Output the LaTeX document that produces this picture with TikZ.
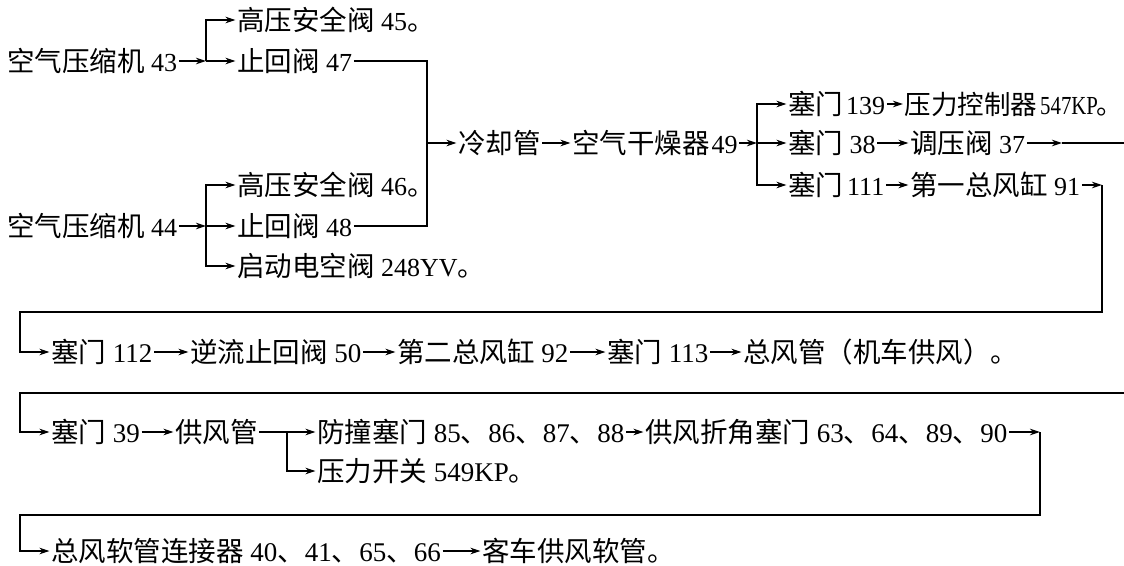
\documentclass[tikz,border=0pt]{standalone}
\usepackage{fontspec}
\setmainfont{Liberation Serif}
\newfontfamily\cjk{Noto Sans CJK SC}
\newfontfamily\latc[FakeStretch=0.8]{Liberation Serif}
\usetikzlibrary{arrows.meta}
\newcommand\zh[1]{{\cjk\fontsize{27.5}{30}\selectfont #1}}
\newcommand\zhs[1]{{\cjk\fontsize{26.5}{30}\selectfont #1}}
\newcommand\zhend[1]{\makebox[0.45em][l]{\zh{#1}}}
\tikzset{
  lbl/.style={anchor=west, inner xsep=1.5pt, inner ysep=0pt, text height=24pt, text depth=3.2pt},
  up/.style={lbl, font=\fontsize{26}{30}\selectfont},
  upc/.style={lbl, font=\latc\fontsize{26}{30}\selectfont},
  lo/.style={lbl, font=\fontsize{27}{30}\selectfont},
  arr/.style={-{Stealth[length=10pt,width=6.5pt]}, line width=1.1pt},
  ln/.style={line width=1.1pt},
}
\begin{document}
\begin{tikzpicture}[x=1pt,y=-1pt]
\useasboundingbox (0,0) rectangle (1124,565);
% upper block
\node[up] (B0) at (5.5,61) {\zh{空气压缩机} 43};
\node[up] (A1) at (235.5,20) {\zh{高压安全阀} 45\zhend{。}};
\node[up] (B1) at (235.5,61) {\zh{止回阀} 47};
\node[up] (D1) at (235.5,185) {\zh{高压安全阀} 46\zhend{。}};
\node[up] (E0) at (5.5,226) {\zh{空气压缩机} 44};
\node[up] (E1) at (235.5,226) {\zh{止回阀} 48};
\node[up] (F1) at (235.5,266) {\zh{启动电空阀} 248YV\zhend{。}};
\node[up] (C1) at (456.5,143) {\zh{冷却管}};
\node[up] (C2) at (570.5,143) {\zh{空气干燥器}\kern2pt 49};
\node[up] (R1) at (786.5,104) {\zh{塞门}\kern3pt 139};
\node[upc] (R1b) at (903,104) {\zhs{压力控制器}\kern3pt 547KP\kern-2pt\zhs{。}};
\node[up] (R2) at (786.5,143) {\zh{塞门} 38};
\node[up] (R2b) at (908.5,143) {\zh{调压阀} 37};
\node[up] (R3) at (786.5,185) {\zh{塞门}\kern4pt 111};
\node[up] (R3b) at (908.5,185) {\zh{第一总风缸} 91};
\coordinate (jB) at (206,61);
\coordinate (jE) at (206,226);
\coordinate (jC) at (427,143);
\coordinate (jR) at (757,143);
\coordinate (k37) at (1062,143);
\coordinate (kEdge) at (1124,143);
\coordinate (k1) at (1102,185);
\coordinate (k2) at (1102,312);
\coordinate (k3) at (20,312);
% lower block
\node[lo] (S1) at (49.5,352) {\zh{塞门} 112};
\node[lo] (S2) at (188.5,352) {\zh{逆流止回阀} 50};
\node[lo] (S3) at (395.5,352) {\zh{第二总风缸} 92};
\node[lo] (S4) at (605.5,352) {\zh{塞门} 113};
\node[lo] (S5) at (741.5,352) {\zh{总风管（机车供风）}\zhend{。}};
\coordinate (m1) at (1124,393);
\coordinate (m2) at (20,393);
\node[lo] (T1) at (49.5,432) {\zh{塞门} 39};
\node[lo] (T2) at (173.5,432) {\zh{供风管}};
\coordinate (jT) at (287,432);
\node[lo] (T3) at (315.5,432) {\zh{防撞塞门} 85\zh{、}86\zh{、}87\zh{、}88};
\node[lo] (T4) at (315.5,471) {\zh{压力开关} 549KP\zhend{。}};
\node[lo] (T5) at (643.5,432) {\zh{供风折角塞门} 63\zh{、}64\zh{、}89\zh{、}90};
\coordinate (k4) at (1040,432);
\coordinate (k5) at (1040,515);
\coordinate (k6) at (20,515);
\node[lo] (U1) at (49.5,551) {\zh{总风软管连接器} 40\zh{、}41\zh{、}65\zh{、}66};
\node[lo] (U2) at (480.5,551) {\zh{客车供风软管}\zhend{。}};
% connectors upper
\draw[arr] (B0.east) -- (jB);
\draw[arr] (jB) |- (A1.west);
\draw[arr] (jB) -- (B1.west);
\draw[arr] (E0.east) -- (jE);
\draw[arr] (jE) |- (D1.west);
\draw[arr] (jE) -- (E1.west);
\draw[arr] (jE) |- (F1.west);
\draw[ln] (B1.east) -| (jC);
\draw[ln] (E1.east) -| (jC);
\draw[arr] (jC) -- (C1.west);
\draw[arr] (C1.east) -- (C2.west);
\draw[arr] (C2.east) -- (jR);
\draw[arr] (jR) |- (R1.west);
\draw[arr] (jR) -- (R2.west);
\draw[arr] (jR) |- (R3.west);
\draw[arr] (R1.east) -- (R1b.west);
\draw[arr] (R2.east) -- (R2b.west);
\draw[arr] (R2b.east) -- (k37);
\draw[ln] (k37) -- (kEdge);
\draw[arr] (R3.east) -- (R3b.west);
\draw[arr] (R3b.east) -- (k1);
\draw[arr] (k1) -- (k2) -- (k3) |- (S1.west);
% connectors lower
\draw[arr] (S1.east) -- (S2.west);
\draw[arr] (S2.east) -- (S3.west);
\draw[arr] (S3.east) -- (S4.west);
\draw[arr] (S4.east) -- (S5.west);
\draw[arr] (m1) -- (m2) |- (T1.west);
\draw[arr] (T1.east) -- (T2.west);
\draw[ln] (T2.east) -- (jT);
\draw[arr] (jT) -- (T3.west);
\draw[arr] (jT) |- (T4.west);
\draw[arr] (T3.east) -- (T5.west);
\draw[arr] (T5.east) -- (k4);
\draw[arr] (k4) -- (k5) -- (k6) |- (U1.west);
\draw[arr] (U1.east) -- (U2.west);
\end{tikzpicture}
\end{document}
